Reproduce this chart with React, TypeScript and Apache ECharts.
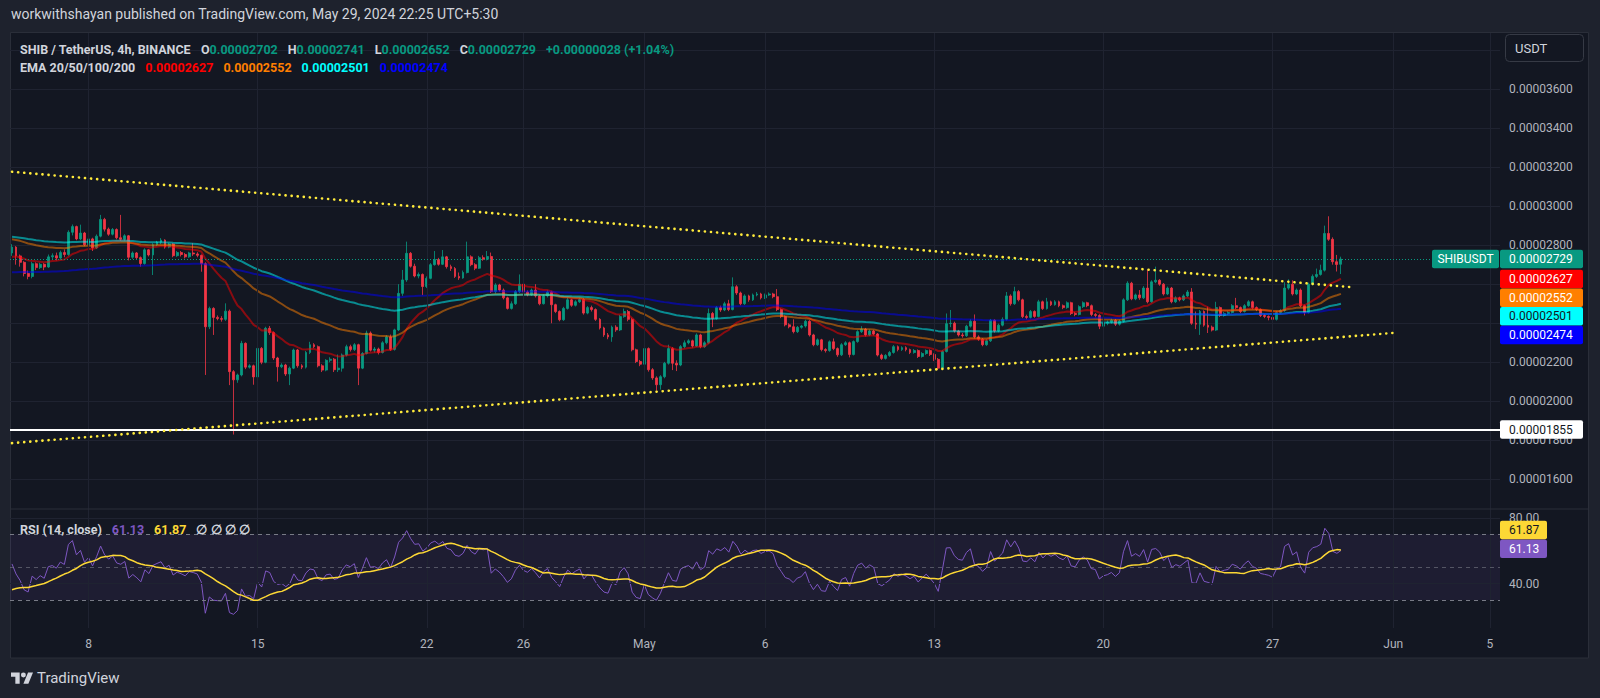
import React, { useEffect, useRef } from 'react';
import * as echarts from 'echarts';

// Prices are stored in units of 1e-8 USDT
const SCALE = 1e-8;
// [open, close, low, high] for every 4h candle, first candle = 2024-04-04 21:30 (UTC+5:30)
const CANDLES: number[][] = [
  [2760,2790,2745,2805],[2790,2745,2700,2795],[2745,2712,2690,2752],[2712,2655,2640,2718],[2655,2640,2625,2670],[2640,2705,2630,2715],[2705,2685,2672,2712],[2685,2702,2678,2710],[2702,2688,2672,2708],[2688,2740,2684,2752],
  [2740,2746,2728,2758],[2746,2734,2722,2762],[2734,2762,2725,2772],[2762,2752,2738,2778],[2752,2866,2745,2876],[2866,2895,2850,2906],[2895,2832,2825,2900],[2832,2862,2826,2905],[2862,2802,2795,2868],[2802,2832,2790,2840],
  [2832,2786,2770,2838],[2786,2846,2780,2855],[2846,2932,2840,2955],[2932,2882,2870,2940],[2882,2856,2848,2890],[2856,2880,2850,2888],[2880,2838,2830,2886],[2838,2830,2822,2955],[2830,2848,2822,2856],[2848,2738,2722,2852],
  [2738,2760,2730,2768],[2760,2736,2728,2765],[2736,2706,2690,2742],[2706,2776,2700,2784],[2776,2750,2742,2780],[2750,2802,2647,2810],[2802,2815,2795,2822],[2815,2826,2805,2836],[2826,2790,2782,2830],[2790,2806,2784,2812],
  [2806,2746,2738,2810],[2746,2762,2740,2770],[2762,2752,2742,2770],[2752,2740,2732,2760],[2740,2760,2735,2766],[2760,2755,2745,2810],[2755,2748,2738,2764],[2748,2705,2664,2752],[2705,2382,2135,2712],[2382,2476,2370,2485],
  [2476,2430,2340,2482],[2430,2424,2415,2440],[2424,2420,2408,2436],[2420,2462,2412,2502],[2462,2152,2083,2470],[2152,2110,1830,2160],[2110,2135,2095,2142],[2135,2297,2128,2310],[2297,2175,2165,2302],[2175,2182,2168,2190],
  [2182,2125,2085,2188],[2125,2271,2118,2280],[2271,2200,2190,2278],[2200,2374,2195,2382],[2374,2352,2340,2386],[2352,2222,2212,2358],[2222,2177,2101,2228],[2177,2186,2170,2195],[2186,2140,2130,2192],[2140,2170,2083,2178],
  [2170,2263,2165,2270],[2263,2182,2172,2268],[2182,2175,2165,2190],[2175,2250,2168,2258],[2250,2290,2242,2305],[2290,2280,2272,2298],[2280,2182,2174,2286],[2182,2160,2150,2190],[2160,2210,2154,2216],[2210,2216,2200,2226],
  [2216,2162,2150,2222],[2162,2170,2150,2240],[2170,2237,2152,2245],[2237,2280,2230,2290],[2280,2265,2255,2290],[2265,2290,2258,2298],[2290,2170,2083,2295],[2170,2245,2165,2252],[2245,2350,2240,2362],[2350,2262,2255,2358],
  [2262,2268,2250,2278],[2268,2250,2240,2275],[2250,2300,2245,2308],[2300,2330,2292,2338],[2330,2266,2258,2342],[2266,2366,2260,2372],[2366,2553,2360,2600],[2553,2622,2540,2673],[2622,2758,2612,2818],[2758,2692,2685,2765],
  [2692,2642,2635,2705],[2642,2650,2630,2660],[2650,2588,2544,2655],[2588,2630,2580,2640],[2630,2700,2625,2708],[2700,2726,2695,2770],[2726,2702,2695,2735],[2702,2740,2698,2775],[2740,2690,2680,2745],[2690,2680,2668,2700],
  [2680,2640,2632,2688],[2640,2632,2622,2660],[2632,2660,2628,2670],[2660,2740,2655,2818],[2740,2700,2692,2748],[2700,2682,2672,2708],[2682,2736,2678,2745],[2736,2728,2720,2748],[2728,2742,2722,2770],[2742,2562,2555,2762],
  [2562,2596,2552,2605],[2596,2570,2562,2602],[2570,2530,2522,2578],[2530,2476,2470,2536],[2476,2500,2470,2512],[2500,2562,2494,2570],[2562,2600,2555,2650],[2600,2560,2552,2660],[2560,2545,2538,2568],[2545,2570,2540,2578],
  [2570,2540,2532,2600],[2540,2500,2492,2546],[2500,2540,2496,2548],[2540,2560,2532,2568],[2560,2495,2400,2566],[2495,2460,2452,2500],[2460,2418,2410,2466],[2418,2476,2412,2484],[2476,2520,2470,2530],[2520,2492,2484,2525],
  [2492,2510,2486,2518],[2510,2522,2504,2530],[2522,2452,2444,2528],[2452,2480,2446,2488],[2480,2470,2460,2490],[2470,2420,2412,2476],[2420,2376,2368,2426],[2376,2340,2330,2382],[2340,2330,2318,2350],[2330,2380,2305,2388],
  [2380,2366,2356,2390],[2366,2434,2360,2442],[2434,2460,2428,2475],[2460,2420,2410,2468],[2420,2264,2256,2428],[2264,2204,2196,2270],[2204,2190,2180,2212],[2190,2270,2184,2278],[2270,2162,2152,2276],[2162,2120,2110,2170],
  [2120,2085,2055,2128],[2085,2126,2060,2134],[2126,2195,2118,2202],[2195,2270,2188,2290],[2270,2195,2160,2278],[2195,2186,2155,2210],[2186,2280,2180,2288],[2280,2300,2272,2312],[2300,2310,2292,2318],[2310,2283,2275,2316],
  [2283,2340,2278,2348],[2340,2280,2272,2346],[2280,2300,2274,2308],[2300,2450,2295,2475],[2450,2424,2380,2458],[2424,2480,2418,2488],[2480,2468,2458,2490],[2468,2500,2462,2510],[2500,2470,2462,2520],[2470,2587,2466,2635],
  [2587,2555,2545,2595],[2555,2500,2492,2562],[2500,2540,2494,2548],[2540,2520,2510,2546],[2520,2545,2514,2552],[2545,2550,2538,2560],[2550,2530,2522,2556],[2530,2545,2524,2552],[2545,2550,2540,2558],[2550,2536,2528,2556],
  [2536,2470,2462,2575],[2470,2434,2426,2476],[2434,2392,2384,2440],[2392,2382,2374,2400],[2382,2357,2348,2420],[2357,2379,2350,2386],[2379,2386,2372,2392],[2386,2410,2378,2418],[2410,2340,2332,2416],[2340,2290,2282,2346],
  [2290,2315,2284,2322],[2315,2265,2256,2320],[2265,2260,2250,2272],[2260,2305,2254,2312],[2305,2270,2262,2322],[2270,2238,2228,2276],[2238,2290,2232,2298],[2290,2300,2284,2308],[2300,2240,2225,2306],[2240,2306,2235,2312],
  [2306,2357,2300,2364],[2357,2370,2350,2385],[2370,2340,2332,2376],[2340,2360,2334,2368],[2360,2345,2338,2366],[2345,2237,2230,2350],[2237,2220,2212,2244],[2220,2235,2214,2242],[2235,2250,2228,2258],[2250,2280,2244,2288],
  [2280,2265,2256,2286],[2265,2275,2258,2282],[2275,2265,2256,2282],[2265,2250,2242,2270],[2250,2260,2244,2268],[2260,2230,2222,2266],[2230,2245,2224,2252],[2245,2260,2238,2266],[2260,2240,2232,2266],[2240,2215,2206,2246],
  [2215,2170,2160,2222],[2170,2255,2165,2262],[2255,2398,2250,2450],[2398,2400,2380,2468],[2400,2360,2352,2408],[2360,2340,2332,2366],[2340,2336,2326,2350],[2336,2385,2330,2392],[2385,2410,2378,2420],[2410,2330,2322,2445],
  [2330,2318,2310,2338],[2318,2290,2282,2324],[2290,2310,2284,2318],[2310,2415,2304,2422],[2415,2360,2352,2420],[2360,2390,2354,2398],[2390,2420,2384,2430],[2420,2540,2414,2560],[2540,2500,2490,2548],[2500,2562,2494,2587],
  [2562,2520,2512,2570],[2520,2434,2426,2526],[2434,2430,2420,2444],[2430,2460,2424,2468],[2460,2435,2428,2466],[2435,2510,2430,2520],[2510,2475,2468,2516],[2475,2510,2470,2530],[2510,2495,2488,2516],[2495,2510,2490,2518],
  [2510,2490,2482,2516],[2490,2480,2472,2496],[2480,2505,2474,2512],[2505,2450,2442,2510],[2450,2445,2436,2458],[2445,2485,2440,2492],[2485,2505,2478,2512],[2505,2490,2482,2510],[2490,2445,2436,2496],[2445,2440,2430,2452],
  [2440,2385,2370,2446],[2385,2400,2352,2408],[2400,2405,2390,2414],[2405,2415,2398,2424],[2415,2395,2386,2422],[2395,2410,2388,2418],[2410,2520,2404,2528],[2520,2605,2514,2615],[2605,2525,2518,2612],[2525,2545,2518,2552],
  [2545,2530,2520,2570],[2530,2580,2524,2590],[2580,2510,2502,2673],[2510,2612,2505,2620],[2612,2620,2605,2690],[2620,2600,2592,2626],[2600,2550,2542,2606],[2550,2580,2544,2588],[2580,2510,2502,2586],[2510,2530,2504,2538],
  [2530,2520,2512,2536],[2520,2540,2514,2548],[2540,2560,2534,2570],[2560,2400,2392,2580],[2400,2395,2370,2460],[2395,2460,2340,2468],[2460,2390,2382,2466],[2390,2380,2350,2485],[2380,2365,2358,2388],[2365,2480,2360,2510],
  [2480,2440,2432,2486],[2440,2450,2434,2458],[2450,2455,2442,2462],[2455,2490,2450,2498],[2490,2480,2472,2530],[2480,2460,2452,2486],[2460,2490,2455,2498],[2490,2510,2484,2518],[2510,2480,2472,2516],[2480,2470,2462,2486],
  [2470,2440,2432,2476],[2440,2435,2426,2448],[2435,2430,2415,2440],[2430,2420,2410,2436],[2420,2455,2414,2462],[2455,2465,2448,2472],[2465,2580,2458,2610],[2580,2600,2572,2625],[2600,2550,2542,2620],[2550,2570,2544,2578],
  [2570,2490,2482,2578],[2490,2455,2440,2496],[2455,2600,2450,2608],[2600,2640,2594,2650],[2640,2650,2632,2680],[2650,2672,2644,2700],[2672,2860,2665,2900],[2860,2830,2822,2948],[2830,2715,2700,2840],[2715,2701,2665,2750],
  [2702,2729,2652,2741],
];

const EMA_PERIODS = [20, 50, 100, 200];
const EMA_SEEDS = [2741, 2830, 2843, 2661];
const EMA_COLORS = ['#ff0000', '#ff7f00', '#00ffff', '#0000ff'];
const EMA_LAST = [2627, 2552, 2501, 2474];
const RSI_SEED_GAIN = 13.5;
const RSI_SEED_LOSS = 12.5;
const RSI_MA_PRIOR = 35;
const RSI_LAST = 61.13;
const RSI_MA_LAST = 61.87;

// header values
const LAST = { o: 2702, h: 2741, l: 2652, c: 2729, chg: 28, pct: 1.04 };

// time axis
const START_UTC = Date.UTC(2024, 3, 4, 16, 0); // 21:30 UTC+5:30
const SLOTS = 370;
const TICKS: [number, string][] = [
  [19, '8'], [61, '15'], [103, '22'], [127, '26'], [157, 'May'], [187, '6'],
  [229, '13'], [271, '20'], [313, '27'], [343, 'Jun'], [367, '5'],
];

// drawings
const UPPER_TREND: number[][] = [[0, 3176], [333, 2584]];
const LOWER_TREND: number[][] = [[0, 1786], [344, 2352]];
const SUPPORT = 1855;

const FONT = 'Roboto, "Noto Sans", Arial, sans-serif';
const GRID_C = '#1f2331';
const TXT = '#d1d4dc';
const AXT = '#b2b5be';
const UP = '#089981';
const DOWN = '#f23645';
const LEG = 12.5;

const fmt = (v: number) => (v * SCALE).toFixed(8);

function emaCalc(src: number[], period: number, seed: number) {
  const k = 2 / (period + 1);
  const out: number[] = [];
  let e = seed;
  src.forEach((c, i) => {
    if (i > 0) e = e + k * (c - e);
    out.push(+e.toFixed(2));
  });
  return out;
}
function rsiCalc(src: number[], period: number, g0: number, l0: number) {
  let g = g0, l = l0;
  const out: number[] = [];
  src.forEach((c, i) => {
    if (i > 0) {
      const ch = c - src[i - 1];
      g = (g * (period - 1) + Math.max(ch, 0)) / period;
      l = (l * (period - 1) + Math.max(-ch, 0)) / period;
    }
    out.push(+(l === 0 ? 100 : 100 - 100 / (1 + g / l)).toFixed(2));
  });
  return out;
}
function smaCalc(src: number[], n: number, prior: number) {
  return src.map((_, i) => {
    const s = src.slice(Math.max(0, i - n + 1), i + 1);
    const missing = n - s.length;
    return +((s.reduce((a, b) => a + b, 0) + missing * prior) / n).toFixed(2);
  });
}

export default function App() {
  const ref = useRef<HTMLDivElement>(null);
  useEffect(() => {
    document.body.style.margin = '0';
    const chart = echarts.init(ref.current!, null, { renderer: 'svg' });

    const pad = (n: number) => String(n).padStart(2, '0');
    const cats: string[] = [];
    for (let i = 0; i < SLOTS; i++) {
      const d = new Date(START_UTC + i * 4 * 3600 * 1000 + 5.5 * 3600 * 1000);
      cats.push(`${d.getUTCFullYear()}-${pad(d.getUTCMonth() + 1)}-${pad(d.getUTCDate())} ${pad(d.getUTCHours())}:${pad(d.getUTCMinutes())}`);
    }
    const tickMap = new Map(TICKS);
    const closes = CANDLES.map((c) => c[1]);
    const emas = EMA_PERIODS.map((p, k) => emaCalc(closes, p, EMA_SEEDS[k]));
    const rsi = rsiCalc(closes, 14, RSI_SEED_GAIN, RSI_SEED_LOSS);
    const rsiMa = smaCalc(rsi, 14, RSI_MA_PRIOR);

    const xAxes = [0, 1, 2, 3].map((g) => ({
      type: 'category',
      gridIndex: g,
      data: cats,
      boundaryGap: true,
      show: g === 2,
      axisLine: { show: false },
      axisTick: { show: false },
      splitLine: { show: false },
      axisLabel: g === 2 ? {
        show: true,
        interval: (idx: number) => tickMap.has(idx),
        formatter: (_v: string, idx: number) => tickMap.get(idx) ?? '',
        color: AXT, fontSize: 12, fontFamily: FONT, margin: 10,
      } : { show: false },
    }));

    const vLines = (xi: number, yi: number) => ({
      type: 'line', xAxisIndex: xi, yAxisIndex: yi, data: [[cats[0], 0]], showSymbol: false,
      lineStyle: { opacity: 0 }, silent: true, z: 0,
      markLine: {
        silent: true, symbol: ['none', 'none'], label: { show: false },
        lineStyle: { color: GRID_C, type: 'solid', width: 1 },
        data: TICKS.map(([i]) => ({ xAxis: cats[i] })),
      },
    });

    const rs = (color: string) => ({ color, fontSize: LEG, fontFamily: FONT });
    const rich = {
      t: rs(TXT), v: rs(UP),
      e0: rs(EMA_COLORS[0]), e1: rs(EMA_COLORS[1]), e2: rs(EMA_COLORS[2]), e3: rs(EMA_COLORS[3]),
      r: rs('#7e57c2'), m: rs('#fdd835'),
    };

    const hidden = new Set<number>();
    const priceFmt = (v: number) => (v >= 3800 || hidden.has(v) ? '' : fmt(v));

    const option: any = {
      animation: false,
      backgroundColor: '#1e222d',
      title: [
        { text: 'workwithshayan published on TradingView.com, May 29, 2024 22:25 UTC+5:30', left: 11, top: 7, padding: 0,
          textStyle: { color: TXT, fontSize: 14, fontWeight: 'normal', fontFamily: FONT } },
        { text: `{t|SHIB / TetherUS, 4h, BINANCE}  {t|O}{v|${fmt(LAST.o)}}  {t|H}{v|${fmt(LAST.h)}}  {t|L}{v|${fmt(LAST.l)}}  {t|C}{v|${fmt(LAST.c)}}  {v|+${fmt(LAST.chg)} (+${LAST.pct.toFixed(2)}%)}`,
          left: 20, top: 40, padding: 0, textStyle: { rich } },
        { text: `{t|EMA 20/50/100/200}  ${EMA_LAST.map((v, k) => `{e${k}|${fmt(v)}}`).join('  ')}`,
          left: 20, top: 58, padding: 0, textStyle: { rich } },
        { text: `{t|RSI (14, close)}  {r|${RSI_LAST.toFixed(2)}}  {m|${RSI_MA_LAST.toFixed(2)}}  {t|∅ ∅ ∅ ∅}`,
          left: 20, top: 520, padding: 0, textStyle: { rich } },
        { text: 'TradingView', left: 37, top: 670, padding: 0,
          textStyle: { color: TXT, fontSize: 15, fontWeight: 'normal', fontFamily: FONT } },
      ],
      grid: [
        { left: 10, top: 33, width: 1490, height: 476 },
        { left: 10, top: 49.96, width: 1490, height: 429.44 },
        { left: 10, top: 509, width: 1490, height: 119 },
        { left: 10, top: 501.3, width: 1490, height: 131.6 },
      ],
      xAxis: xAxes,
      yAxis: [
        { gridIndex: 0, type: 'value', min: 0, max: 1, show: false },
        { gridIndex: 1, type: 'value', min: 1600, max: 3800, interval: 200, position: 'right',
          axisLine: { show: false }, axisTick: { show: false },
          splitLine: { show: true, lineStyle: { color: GRID_C, width: 1 } },
          axisLabel: { color: AXT, fontSize: 12, fontFamily: FONT, margin: 9, formatter: priceFmt } },
        { gridIndex: 2, type: 'value', min: 0, max: 1, show: false },
        { gridIndex: 3, type: 'value', min: 10, max: 90, interval: 10, position: 'right',
          axisLine: { show: false }, axisTick: { show: false }, splitLine: { show: false },
          axisLabel: { color: AXT, fontSize: 12, fontFamily: FONT, margin: 9,
            formatter: (v: number) => (v === 40 || v === 80 ? v.toFixed(2) : '') } },
      ],
      series: [
        vLines(0, 0),
        vLines(2, 2),
        {
          type: 'candlestick', xAxisIndex: 1, yAxisIndex: 1, data: CANDLES, barWidth: 2.4, z: 3,
          itemStyle: { color: UP, color0: DOWN, borderColor: UP, borderColor0: DOWN, borderWidth: 0.8 },
          markLine: {
            silent: true, symbol: ['none', 'none'], label: { show: false },
            data: [
              { yAxis: LAST.c, lineStyle: { color: UP, type: [1, 2], width: 1 } },
              { yAxis: SUPPORT, lineStyle: { color: '#ffffff', type: 'solid', width: 2 } },
            ],
          },
        },
        ...emas.map((d, k) => ({
          type: 'line', xAxisIndex: 1, yAxisIndex: 1, data: d, showSymbol: false, z: 4,
          lineStyle: { color: EMA_COLORS[k], width: 2, opacity: 0.5 },
        })),
        ...[UPPER_TREND, LOWER_TREND].map((d) => ({
          type: 'line', xAxisIndex: 1, yAxisIndex: 1, data: d, showSymbol: false, z: 5,
          lineStyle: { color: '#ffeb3b', width: 2.6, type: [0.1, 6], cap: 'round' },
        })),
        {
          type: 'line', xAxisIndex: 3, yAxisIndex: 3, data: rsi, showSymbol: false, z: 4,
          lineStyle: { color: '#7e57c2', width: 1 },
          markArea: { silent: true, itemStyle: { color: 'rgba(126,87,194,0.1)' }, data: [[{ yAxis: 30 }, { yAxis: 70 }]] },
          markLine: {
            silent: true, symbol: ['none', 'none'], label: { show: false },
            data: [
              { yAxis: 80, lineStyle: { color: GRID_C, type: 'solid', width: 1 } },
              { yAxis: 40, lineStyle: { color: GRID_C, type: 'solid', width: 1 } },
              { yAxis: 70, lineStyle: { color: '#787b86', type: [4, 4], width: 1 } },
              { yAxis: 50, lineStyle: { color: 'rgba(120,123,134,0.6)', type: [4, 4], width: 1 } },
              { yAxis: 30, lineStyle: { color: '#787b86', type: [4, 4], width: 1 } },
            ],
          },
        },
        {
          type: 'line', xAxisIndex: 3, yAxisIndex: 3, data: rsiMa, showSymbol: false, z: 5,
          lineStyle: { color: '#fdd835', width: 1.5 },
        },
      ],
    };
    chart.setOption(option);

    const py = (v: number) => chart.convertToPixel({ yAxisIndex: 1 }, v) as number;
    const ry = (v: number) => chart.convertToPixel({ yAxisIndex: 3 }, v) as number;
    const H = 18.5;
    const g: any[] = [];
    const boxCenters: number[] = [];
    const label = (x: number, yc: number, w: number, fill: string, text: string, color: string, tx: number, align = 'left') => {
      g.push({ type: 'rect', z: 100, shape: { x, y: yc - H / 2, width: w, height: H, r: 2 }, style: { fill } });
      g.push({ type: 'text', z: 101, x: tx, y: yc,
        style: { text, fill: color, fontSize: 12, fontFamily: FONT, align, verticalAlign: 'middle', textAlign: align, textVerticalAlign: 'middle' } });
    };
    // panel background and frame
    g.push({ type: 'rect', z: -10, shape: { x: 10.5, y: 32.5, width: 1578, height: 625.5 }, style: { fill: '#131722', stroke: '#2a2e39', lineWidth: 1 } });
    g.push({ type: 'line', z: 50, shape: { x1: 10, y1: 509, x2: 1588, y2: 509 }, style: { stroke: '#2a2e39', lineWidth: 1 } });
    // USDT box
    g.push({ type: 'rect', z: 100, shape: { x: 1505.5, y: 34.5, width: 78, height: 27, r: 4 }, style: { fill: '#131722', stroke: '#363a45', lineWidth: 1 } });
    g.push({ type: 'text', z: 101, x: 1515, y: 48, style: { text: 'USDT', fill: TXT, fontSize: 13, fontFamily: FONT, verticalAlign: 'middle', textVerticalAlign: 'middle' } });
    // last price
    const yLast = py(LAST.c);
    label(1432, yLast, 67, UP, 'SHIBUSDT', '#ffffff', 1465.5, 'center');
    label(1500, yLast, 83, UP, fmt(LAST.c), '#ffffff', 1509);
    boxCenters.push(yLast);
    let prev = yLast;
    EMA_LAST.forEach((v, k) => {
      const yy = Math.max(py(v), prev + H + 0.2);
      prev = yy;
      boxCenters.push(yy);
      label(1500, yy, 83, EMA_COLORS[k], fmt(v), k === 2 ? '#131722' : '#ffffff', 1509);
    });
    const ySup = py(SUPPORT);
    boxCenters.push(ySup);
    label(1500, ySup, 83, '#ffffff', fmt(SUPPORT), '#131722', 1509);
    // axis labels that sit fully behind a price box are not visible in the original
    for (let v = 1600; v <= 3800; v += 200) {
      const yv = py(v);
      if (boxCenters.some((c) => Math.abs(c - yv) < H / 2)) hidden.add(v);
    }
    // rsi labels
    const yR = ry(RSI_LAST);
    label(1500, yR, 47, '#7e57c2', RSI_LAST.toFixed(2), '#ffffff', 1509);
    label(1500, Math.min(ry(RSI_MA_LAST), yR - H - 0.2), 47, '#fdd835', RSI_MA_LAST.toFixed(2), '#131722', 1509);
    // footer logo
    try {
      const Logo = echarts.graphic.extendPath('M14 22H7V11H0V4h14v18zM28 22h-8l7.5-18h8L28 22zM24 8a4 4 0 1 1-8 0a4 4 0 1 1 8 0z', {});
      echarts.graphic.registerShape('tvlogo', Logo);
      g.push({ type: 'tvlogo', z: 101, x: 11, y: 670, scaleX: 0.62, scaleY: 0.62, style: { fill: TXT } });
    } catch (e) { /* ignore */ }
    chart.setOption({
      graphic: g,
      yAxis: [{}, { axisLabel: { formatter: priceFmt } }, {}, {}],
    });

    return () => chart.dispose();
  }, []);
  return <div ref={ref} style={{ width: 1600, height: 698 }} />;
}
